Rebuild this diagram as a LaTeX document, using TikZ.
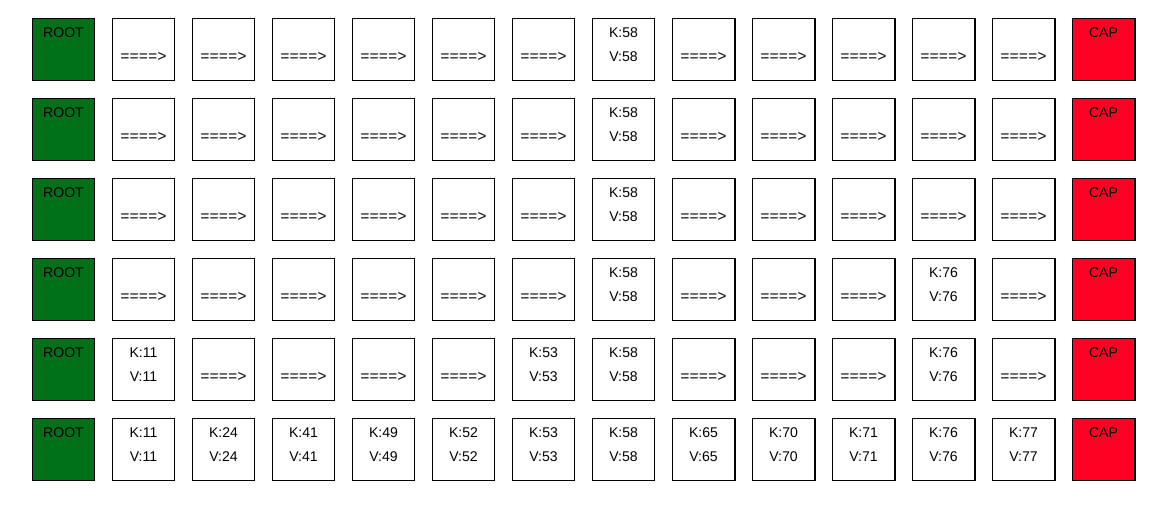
\documentclass[tikz,border=0pt]{standalone}
\usepackage{fontspec}
\setmainfont{Liberation Sans}
\setmonofont{Liberation Mono}
\usetikzlibrary{positioning}
\definecolor{rootgreen}{HTML}{007019}
\definecolor{capred}{HTML}{FF0022}

\begin{document}
\begin{tikzpicture}[x=0.025cm, y=-0.025cm,
  cell/.style={rectangle, draw=black, line width=1.4pt, fill=white, minimum size=1.55cm, inner sep=0pt},
  rootbox/.style={cell, fill=rootgreen},
  capbox/.style={cell, fill=capred},
  celltext/.style={below=7pt, inner sep=0pt, align=center, font=\fontsize{10}{17}\selectfont},
  link/.style={font=\fontsize{11}{17}\ttfamily}
]
\useasboundingbox (0,0) rectangle (1165,505);
\def\nokey{-}

% one row per level, top level first; - marks a forward link
\foreach \lv/\keys in {
  0/{-,-,-,-,-,-,58,-,-,-,-,-},
  1/{-,-,-,-,-,-,58,-,-,-,-,-},
  2/{-,-,-,-,-,-,58,-,-,-,-,-},
  3/{-,-,-,-,-,-,58,-,-,-,76,-},
  4/{11,-,-,-,-,53,58,-,-,-,76,-},
  5/{11,24,41,49,52,53,58,65,70,71,76,77}} {
  \node[rootbox] (b\lv-0) at (63.5, 49.5+80*\lv) {};
  \node[celltext] (t\lv-0) at (b\lv-0.north) {ROOT};
  \foreach \k [count=\c] in \keys {
    \node[cell] (b\lv-\c) at (63.5+80*\c, 49.5+80*\lv) {};
    \ifx\k\nokey
      \node[celltext] (t\lv-\c) at (b\lv-\c.north) {\phantom{K}\\{\ttfamily\fontsize{11}{17}\selectfont ====>}};
    \else
      \node[celltext] (t\lv-\c) at (b\lv-\c.north) {K:\k\\V:\k};
    \fi
  }
  \node[capbox] (b\lv-13) at (1103.5, 49.5+80*\lv) {};
  \node[celltext] (t\lv-13) at (b\lv-13.north) {CAP};
}
\end{tikzpicture}
\end{document}
